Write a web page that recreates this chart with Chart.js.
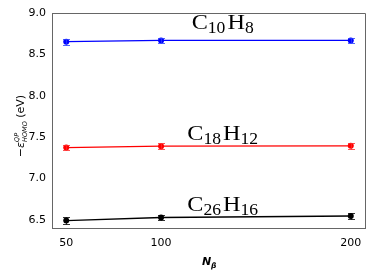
<!DOCTYPE html>
<html lang="en">
<head>
  <meta charset="UTF-8">
  <title>HOMO vs N_beta</title>
  <script src="https://cdn.jsdelivr.net/npm/chart.js"></script>
  <style>
    * { margin: 0; padding: 0; box-sizing: border-box; }
    html, body { width: 374px; height: 280px; background: white; overflow: hidden; }
    canvas { display: block; }
  </style>
</head>
<body>
  <canvas id="homoChart" width="374" height="280"></canvas>

  <script>
    // data
    const nBeta = [50, 100, 200];
    const naphValues = [8.653, 8.668, 8.668];
    const naphErrors = [0.035, 0.035, 0.035];
    const tetraValues = [7.373, 7.390, 7.394];
    const tetraErrors = [0.035, 0.035, 0.035];
    const hexaValues = [6.490, 6.527, 6.545];
    const hexaErrors = [0.04, 0.035, 0.035];

    const xTicks = [50, 100, 200];
    const yTicks = [6.5, 7.0, 7.5, 8.0, 8.5, 9.0];

    // molecule labels: [base, subscript, base, subscript]
    const molNames = [
      ['C', '10', 'H', '8'],
      ['C', '18', 'H', '12'],
      ['C', '26', 'H', '16']
    ];
    const molLabelX = [133, 133, 133];
    const molLabelY = [8.805, 7.47, 6.61];

    const seriesColors = ['#0000ff', '#ff0000', '#000000'];
    const capColors = ['rgba(40,60,255,0.8)', 'rgba(255,40,40,0.8)', 'rgba(0,0,0,0.8)'];

    function points(vals) {
      return nBeta.map((x, i) => ({ x: x, y: vals[i] }));
    }

    const allErrors = [naphErrors, tetraErrors, hexaErrors];

    const errorBarPlugin = {
      id: 'errorBars',
      afterDatasetsDraw(chart) {
        const ctx = chart.ctx;
        const xs = chart.scales.x, ys = chart.scales.y;
        chart.data.datasets.forEach((ds, d) => {
          ctx.save();
          ctx.strokeStyle = capColors[d];
          ctx.lineWidth = 1;
          ds.data.forEach((p, i) => {
            const px = Math.round(xs.getPixelForValue(p.x)) + 0.5;
            const top = Math.round(ys.getPixelForValue(p.y + allErrors[d][i])) + 0.5;
            const bot = Math.round(ys.getPixelForValue(p.y - allErrors[d][i])) + 0.5;
            ctx.beginPath();
            ctx.moveTo(px, top); ctx.lineTo(px, bot);
            ctx.moveTo(px - 3.5, top); ctx.lineTo(px + 3.5, top);
            ctx.moveTo(px - 3.5, bot); ctx.lineTo(px + 3.5, bot);
            ctx.stroke();
          });
          ctx.restore();
        });
      }
    };

    const textPlugin = {
      id: 'texts',
      afterDraw(chart) {
        const ctx = chart.ctx;
        const xs = chart.scales.x, ys = chart.scales.y;
        ctx.save();
        ctx.fillStyle = '#000';
        ctx.textBaseline = 'alphabetic';
        ctx.textAlign = 'left';
        const bigFont = '22px "Liberation Serif", "DejaVu Serif", serif';
        const smallFont = '16px "Liberation Serif", "DejaVu Serif", serif';
        const stretch = 1.1, gap = 2;
        molNames.forEach((parts, k) => {
          let w = 0;
          parts.forEach((s, j) => {
            ctx.font = j % 2 ? smallFont : bigFont;
            w += ctx.measureText(s).width * stretch + (j % 2 ? gap : 0);
          });
          let x = xs.getPixelForValue(molLabelX[k]) - w / 2;
          const y = ys.getPixelForValue(molLabelY[k]);
          parts.forEach((s, j) => {
            ctx.font = j % 2 ? smallFont : bigFont;
            ctx.save();
            ctx.translate(x, j % 2 ? y + 4 : y);
            ctx.scale(stretch, 1);
            ctx.fillText(s, 0, 0);
            ctx.restore();
            x += ctx.measureText(s).width * stretch + (j % 2 ? gap : 0);
          });
        });

        // x axis title N_beta
        ctx.font = 'italic bold 11px "DejaVu Sans", sans-serif';
        ctx.fillText('N', 202, 265);
        ctx.font = 'italic bold 7.5px "DejaVu Sans", sans-serif';
        ctx.fillText('\u03b2', 211, 268);

        // y axis title
        ctx.translate(24, 126);
        ctx.rotate(-Math.PI / 2);
        const f = '11px "DejaVu Sans", sans-serif';
        const fi = 'italic 11px "DejaVu Sans", sans-serif';
        const fs = 'italic 6.5px "DejaVu Sans", sans-serif';
        ctx.font = f;
        const dash = '\u2212';
        const wDash = ctx.measureText(dash).width;
        ctx.font = fi;
        const wEps = ctx.measureText('\u03b5').width;
        ctx.font = fs;
        const wSub = Math.max(ctx.measureText('HOMO').width, ctx.measureText('QP').width);
        ctx.font = f;
        const wTail = ctx.measureText(' (eV)').width;
        let x = -(wDash + wEps + wSub + wTail) / 2;
        ctx.font = f; ctx.fillText(dash, x, 0); x += wDash;
        ctx.font = fi; ctx.fillText('\u03b5', x, 0); x += wEps;
        ctx.font = fs; ctx.fillText('QP', x, -5); ctx.fillText('HOMO', x, 3); x += wSub;
        ctx.font = f; ctx.fillText(' (eV)', x, 0);
        ctx.restore();
      }
    };

    const tickFont = { family: '"DejaVu Sans", sans-serif', size: 11 };

    new Chart(document.getElementById('homoChart'), {
      type: 'scatter',
      data: {
        datasets: [
          { data: points(naphValues) },
          { data: points(tetraValues) },
          { data: points(hexaValues) }
        ].map((ds, i) => Object.assign(ds, {
          showLine: true,
          borderColor: seriesColors[i],
          backgroundColor: seriesColors[i],
          borderWidth: 1.3,
          pointRadius: 3,
          pointBorderWidth: 0
        }))
      },
      options: {
        responsive: false,
        animation: false,
        devicePixelRatio: 1,
        layout: { padding: { top: 13, right: 9, left: 0, bottom: 0 } },
        plugins: { legend: { display: false }, tooltip: { enabled: false } },
        scales: {
          x: {
            type: 'linear',
            min: 42.5,
            max: 207.5,
            afterBuildTicks(scale) { scale.ticks = xTicks.map(v => ({ value: v })); },
            afterFit(scale) { scale.height = 52; },
            grid: { display: false, drawTicks: true, tickLength: 4, tickColor: '#444' },
            border: { color: '#666', width: 1 },
            ticks: { color: '#000', font: tickFont, padding: 5, maxRotation: 0 }
          },
          y: {
            min: 6.4,
            max: 9.0,
            afterBuildTicks(scale) { scale.ticks = yTicks.map(v => ({ value: v })); },
            afterFit(scale) { scale.width = 52; },
            grid: { display: false, drawTicks: true, tickLength: 4, tickColor: '#444' },
            border: { color: '#666', width: 1 },
            ticks: {
              color: '#000', font: tickFont, padding: 2,
              callback: v => v.toFixed(1)
            }
          }
        }
      },
      plugins: [errorBarPlugin, textPlugin,
        {
          id: 'frame',
          afterDraw(chart) {
            const a = chart.chartArea, ctx = chart.ctx;
            ctx.save();
            ctx.strokeStyle = '#666';
            ctx.lineWidth = 1;
            ctx.beginPath();
            ctx.moveTo(a.left, a.top + 0.5); ctx.lineTo(a.right + 0.5, a.top + 0.5);
            ctx.lineTo(a.right + 0.5, a.bottom);
            ctx.stroke();
            ctx.restore();
          }
        }]
    });
  </script>
</body>
</html>
